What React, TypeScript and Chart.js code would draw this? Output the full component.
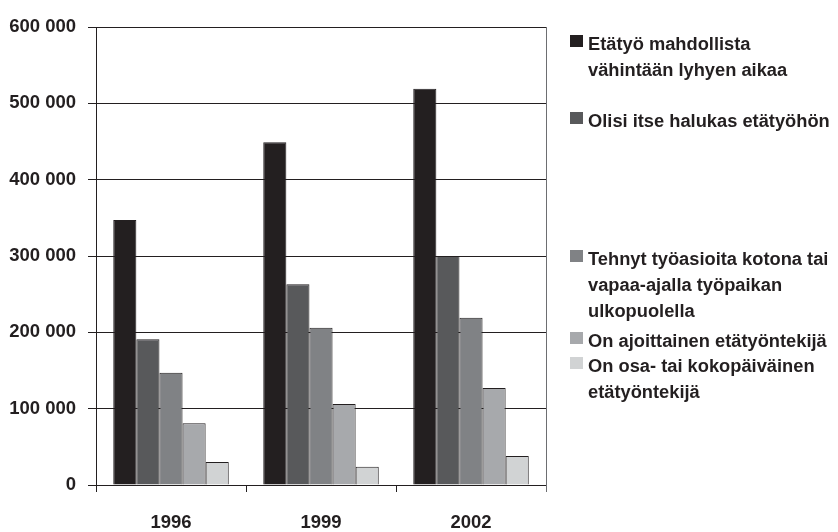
import React, { useEffect, useRef } from "react";
import { Chart, registerables } from "chart.js";

Chart.register(...registerables);

const years = ["1996", "1999", "2002"];
const seriesNames = [
  ["Etätyö mahdollista", "vähintään lyhyen aikaa"],
  ["Olisi itse halukas etätyöhön"],
  ["Tehnyt työasioita kotona tai", "vapaa-ajalla työpaikan", "ulkopuolella"],
  ["On ajoittainen etätyöntekijä"],
  ["On osa- tai kokopäiväinen", "etätyöntekijä"],
];
const mahdollista = [347000, 449000, 519000];
const halukas = [191000, 263000, 300000];
const tehnyt = [147000, 206000, 219000];
const ajoittainen = [81000, 106000, 127000];
const kokopaivainen = [30000, 24000, 38000];
const seriesValues = [mahdollista, halukas, tehnyt, ajoittainen, kokopaivainen];
const colors = ["#231f20", "#58595b", "#808285", "#a7a9ac", "#d1d3d4"];
const yTicks = [0, 100000, 200000, 300000, 400000, 500000, 600000];
const legendTops = [31, 108, 246, 328, 353];

const FONT = "'Liberation Sans', Arial, sans-serif";

const rightLine = {
  id: "rightLine",
  afterDraw(chart: any) {
    const { ctx, chartArea } = chart;
    ctx.save();
    ctx.strokeStyle = "#6d6e71";
    ctx.lineWidth = 1;
    ctx.beginPath();
    ctx.moveTo(Math.round(chartArea.right) + 0.5, chartArea.top);
    ctx.lineTo(Math.round(chartArea.right) + 0.5, chartArea.bottom + 7);
    ctx.stroke();
    ctx.restore();
  },
};

export default function App() {
  const ref = useRef<HTMLCanvasElement>(null);
  useEffect(() => {
    const chart = new Chart(ref.current!, {
      type: "bar",
      data: {
        labels: years,
        datasets: seriesValues.map((v, i) => ({
          label: seriesNames[i].join(" "),
          data: v,
          backgroundColor: colors[i],
          borderColor: "#231f20",
          borderWidth: 1,
          barPercentage: 1,
          categoryPercentage: 0.77,
        })),
      },
      options: {
        animation: false,
        responsive: false,
        layout: { padding: { left: 0, top: 27, right: 292, bottom: 0 } },
        plugins: { legend: { display: false }, tooltip: { enabled: false } },
        scales: {
          x: {
            offset: true,
            grid: { offset: true, drawOnChartArea: false, tickLength: 7, color: "#231f20" },
            border: { color: "#231f20" },
            ticks: {
              color: "#231f20",
              padding: 20,
              font: { family: FONT, weight: "bold", size: 18.5 },
            },
            afterFit(scale: any) {
              scale.height = 47;
            },
          },
          y: {
            min: 0,
            max: 600000,
            afterBuildTicks(scale: any) {
              scale.ticks = yTicks.map((v) => ({ value: v }));
            },
            grid: { color: "#231f20", tickLength: 8 },
            border: { color: "#231f20" },
            ticks: {
              color: "#231f20",
              padding: 12,
              font: { family: FONT, weight: "bold", size: 18.5 },
              callback: (v: any) => String(v).replace(/\B(?=(\d{3})+(?!\d))/g, " "),
            },
            afterFit(scale: any) {
              scale.width = 96;
            },
          },
        },
      },
      plugins: [rightLine],
    });
    return () => chart.destroy();
  }, []);

  return (
    <div style={{ position: "fixed", left: 0, top: 0, width: 838, height: 532, background: "#fff" }}>
      <canvas ref={ref} width={838} height={532} style={{ display: "block" }} />
      {seriesNames.map((lines, i) => (
        <div
          key={i}
          style={{
            position: "absolute",
            left: 570,
            top: legendTops[i],
            fontFamily: FONT,
            fontWeight: "bold",
            fontSize: 18.3,
            lineHeight: "26px",
            color: "#231f20",
            whiteSpace: "nowrap",
          }}
        >
          <span
            style={{
              position: "absolute",
              left: 0,
              top: 4,
              width: 13,
              height: 12,
              background: colors[i],
            }}
          />
          <div style={{ marginLeft: 18 }}>
            {lines.map((l, j) => (
              <div key={j}>{l}</div>
            ))}
          </div>
        </div>
      ))}
    </div>
  );
}
